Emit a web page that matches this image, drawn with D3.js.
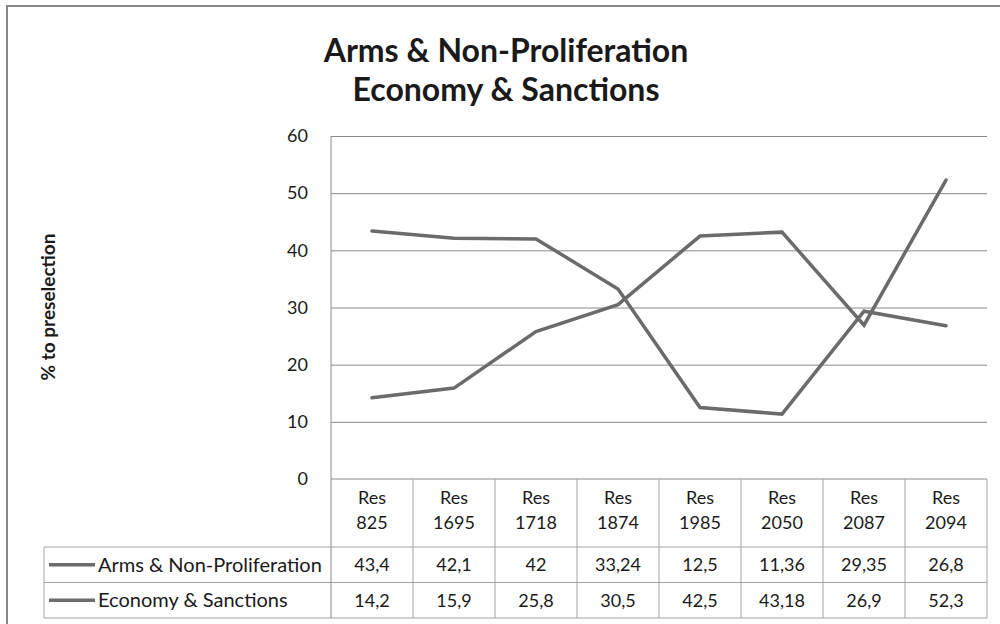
<!DOCTYPE html>
<html>
<head>
<meta charset="utf-8">
<script src="https://cdn.jsdelivr.net/npm/d3@7"></script>
<style>
html,body{margin:0;padding:0;background:#fff;}
svg{display:block;}
text{font-family:Lato, "Open Sans", sans-serif;fill:#1a1a1a;}
</style>
</head>
<body>
<svg id="chart" width="1000" height="624"></svg>
<script>
const titleLines = ["Arms & Non-Proliferation", "Economy & Sanctions"];
const yAxisTitle = "% to preselection";
const categories = ["Res 825","Res 1695","Res 1718","Res 1874","Res 1985","Res 2050","Res 2087","Res 2094"];
const seriesNames = ["Arms & Non-Proliferation","Economy & Sanctions"];
const armsValues = [43.4, 42.1, 42, 33.24, 12.5, 11.36, 29.35, 26.8];
const economyValues = [14.2, 15.9, 25.8, 30.5, 42.5, 43.18, 26.9, 52.3];
const armsLabels = ["43,4","42,1","42","33,24","12,5","11,36","29,35","26,8"];
const economyLabels = ["14,2","15,9","25,8","30,5","42,5","43,18","26,9","52,3"];
const yTicks = [0,10,20,30,40,50,60];

const series = [
  {name: seriesNames[0], values: armsValues, labels: armsLabels},
  {name: seriesNames[1], values: economyValues, labels: economyLabels}
];

const svg = d3.select("#chart");
const plotLeft = 331, plotRight = 987, plotTop = 136, plotBottom = 479;
const headerBottom = 547, rowH = 35.5, legendLeft = 44;
const lineColor = "#6b6b6b", gridColor = "#8a8a8a", tableColor = "#a3a3a3";

// outer chart border
svg.append("path")
  .attr("d", "M7,640 L7,6 L1010,6")
  .attr("fill","none").attr("stroke","#878787").attr("stroke-width",2);

const x = d3.scaleBand().domain(categories).range([plotLeft, plotRight]);
const y = d3.scaleLinear().domain([0,60]).range([plotBottom, plotTop]);

// gridlines
const grid = svg.append("g").attr("transform",`translate(${plotLeft},0)`)
  .call(d3.axisLeft(y).tickValues(yTicks.filter(d=>d>0)).tickSize(-(plotRight-plotLeft)).tickFormat(""));
grid.select(".domain").remove();
grid.selectAll("line").attr("stroke",gridColor).attr("stroke-width",1);

// y tick labels
const yAxis = svg.append("g").attr("transform",`translate(${plotLeft},0)`)
  .call(d3.axisLeft(y).tickValues(yTicks).tickSize(0).tickPadding(23));
yAxis.select(".domain").remove();
yAxis.selectAll("text").attr("font-size",18).attr("font-family","Lato").attr("fill","#222");

// table geometry
const row1Bottom = headerBottom + rowH, row2Bottom = headerBottom + 2*rowH;
const tbl = svg.append("g").attr("stroke",tableColor).attr("stroke-width",1).attr("fill","none");
tbl.append("line").attr("x1",plotLeft).attr("x2",plotRight).attr("y1",plotBottom).attr("y2",plotBottom).attr("stroke",gridColor);
[headerBottom,row1Bottom,row2Bottom].forEach(v=>{
  tbl.append("line").attr("x1",legendLeft).attr("x2",plotRight).attr("y1",v).attr("y2",v);
});
categories.forEach((c,i)=>{
  if(i===0) return;
  tbl.append("line").attr("x1",x(c)).attr("x2",x(c)).attr("y1",plotBottom).attr("y2",row2Bottom);
});
tbl.append("line").attr("x1",plotRight).attr("x2",plotRight).attr("y1",plotBottom).attr("y2",row2Bottom);
tbl.append("line").attr("x1",legendLeft).attr("x2",legendLeft).attr("y1",headerBottom).attr("y2",row2Bottom);
svg.append("line").attr("x1",plotLeft).attr("x2",plotLeft).attr("y1",plotTop).attr("y2",row2Bottom)
  .attr("stroke",gridColor).attr("stroke-width",1);

// category labels (two lines)
const cat = svg.append("g");
categories.forEach(c=>{
  const parts = c.split(" ");
  const t = cat.append("text").attr("text-anchor","middle").attr("font-size",18).attr("fill","#222");
  t.append("tspan").attr("x", x(c)+x.bandwidth()/2).attr("y", 504).text(parts[0]);
  t.append("tspan").attr("x", x(c)+x.bandwidth()/2).attr("y", 529).text(parts[1]);
});

// table values + legend
series.forEach((s,si)=>{
  const top = headerBottom + si*rowH;
  const cy = top + rowH/2;
  s.labels.forEach((lab,i)=>{
    svg.append("text").attr("x", x(categories[i])+x.bandwidth()/2).attr("y", cy)
      .attr("dy","0.36em").attr("text-anchor","middle").attr("font-size",18).attr("fill","#222").text(lab);
  });
  svg.append("line").attr("x1",49).attr("x2",95).attr("y1",cy).attr("y2",cy)
    .attr("stroke",lineColor).attr("stroke-width",3.5);
  svg.append("text").attr("x",98).attr("y",cy).attr("dy","0.36em")
    .attr("font-size",20).attr("fill","#222").text(s.name);
});

// series lines
const line = d3.line()
  .x((d,i)=>x(categories[i])+x.bandwidth()/2)
  .y(d=>y(d));
series.forEach(s=>{
  svg.append("path").datum(s.values).attr("d",line)
    .attr("fill","none").attr("stroke",lineColor).attr("stroke-width",3.5)
    .attr("stroke-linejoin","miter").attr("stroke-linecap","round");
});

// title
titleLines.forEach((t,i)=>{
  svg.append("text").attr("x",506).attr("y",50 + i*39).attr("dy","0.36em")
    .attr("text-anchor","middle").attr("font-size",32).attr("font-weight","bold").attr("fill","#111").text(t);
});

// y axis title
svg.append("text").attr("transform","translate(48,307) rotate(-90)").attr("dy","0.36em")
  .attr("text-anchor","middle").attr("font-size",19).attr("font-weight","bold").attr("fill","#111").text(yAxisTitle);
</script>
</body>
</html>
